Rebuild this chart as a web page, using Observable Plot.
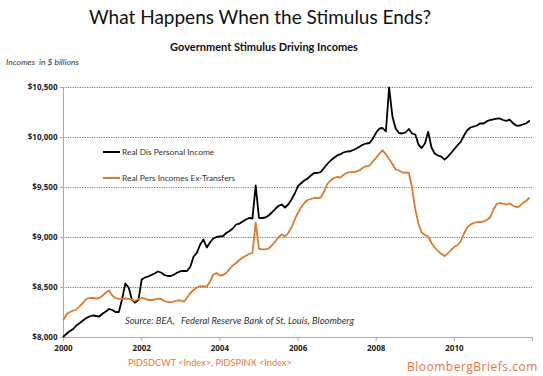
<!DOCTYPE html>
<html>
<head>
<meta charset="utf-8">
<script src="https://cdn.jsdelivr.net/npm/d3@7"></script>
<script src="https://cdn.jsdelivr.net/npm/@observablehq/plot@0.6"></script>
<style>
  html, body { margin: 0; padding: 0; background: #fff; }
  #wrap { position: relative; width: 543px; height: 376px; overflow: hidden; font-family: Lato, "Open Sans", sans-serif; }
  #wrap svg { position: absolute; left: 0; top: 0; }
  .t { position: absolute; white-space: nowrap; }
  .leg { position: absolute; display: flex; align-items: center; font-size: 8.4px; color: #333; }
  .leg span.sw { display: inline-block; width: 17px; height: 2px; margin-right: 2px; }
</style>
</head>
<body>
<div id="wrap">
  <div class="t" style="left:0;width:520px;top:5px;text-align:center;font-size:19px;color:#111;">What Happens When the Stimulus Ends?</div>
  <div class="t" style="left:0;width:528px;top:40px;text-align:center;font-size:11px;font-weight:bold;color:#111;">Government Stimulus Driving Incomes</div>
  <div class="t" style="left:6px;top:57px;font-size:8.5px;font-style:italic;color:#333;">Incomes&nbsp;&nbsp;in $ billions</div>
  <div class="leg" style="left:103px;top:147px;"><span class="sw" style="background:#000"></span>Real Dis Personal Income</div>
  <div class="leg" style="left:103px;top:173px;"><span class="sw" style="background:#dd7a2f"></span>Real Pers Incomes Ex-Transfers</div>
  <div class="t" style="left:125px;top:315px;font-size:9.4px;font-style:italic;color:#333;">Source: BEA,&nbsp;&nbsp; Federal Reserve Bank of St. Louis, Bloomberg</div>
  <div class="t" style="left:128px;top:357px;font-size:9.2px;color:#e07b39;">PIDSDCWT &lt;Index&gt;, PIDSPINX &lt;Index&gt;</div>
  <div class="t" style="left:407px;top:358px;font-size:12px;letter-spacing:0.5px;color:#e8764a;font-family:'Open Sans', sans-serif;">BloombergBriefs.com</div>
</div>
<script>
// Monthly observations, Jan 2000 – Dec 2011 ($ billions)
const startMonth = "2000-01";
const realDisposableIncome = [
  8010, 8040, 8065, 8085, 8120, 8145, 8170, 8195, 8210, 8220, 8215, 8210,
  8240, 8260, 8285, 8275, 8255, 8255, 8380, 8540, 8500, 8380, 8350, 8375,
  8580, 8600, 8610, 8625, 8640, 8660, 8650, 8625, 8615, 8615, 8630, 8650,
  8663, 8665, 8665, 8710, 8810, 8847, 8930, 8980, 8900, 8950, 8990, 9005,
  9010, 9015, 9045, 9065, 9090, 9130, 9138, 9160, 9180, 9195, 9190, 9520,
  9195, 9195, 9200, 9220, 9250, 9285, 9315, 9330, 9300, 9330, 9380, 9440,
  9515, 9545, 9570, 9590, 9620, 9645, 9645, 9655, 9695, 9735, 9770, 9795,
  9820, 9833, 9850, 9860, 9862, 9875, 9890, 9910, 9930, 9940, 9945, 9990,
  10050, 10090, 10095, 10060, 10500, 10210, 10090, 10045, 10040, 10050, 10085, 10040,
  10030, 9925, 9895, 9940, 10057, 9900, 9840, 9820, 9808, 9778, 9808, 9845,
  9885, 9925, 9957, 10020, 10072, 10100, 10110, 10120, 10142, 10140, 10163, 10175,
  10182, 10188, 10190, 10175, 10167, 10178, 10145, 10120, 10118, 10130, 10140, 10165
];
const realIncomeExTransfers = [
  8177, 8235, 8255, 8270, 8280, 8315, 8345, 8385, 8395, 8395, 8390, 8395,
  8420, 8450, 8470, 8420, 8395, 8387, 8387, 8390, 8387, 8378, 8365, 8385,
  8395, 8388, 8375, 8375, 8380, 8388, 8385, 8365, 8355, 8352, 8362, 8370,
  8370, 8358, 8400, 8445, 8475, 8500, 8513, 8510, 8510, 8560, 8630, 8645,
  8620, 8625, 8645, 8685, 8720, 8745, 8775, 8800, 8818, 8835, 8845, 9150,
  8885, 8882, 8882, 8890, 8920, 8960, 9000, 9030, 9010, 9045, 9100, 9180,
  9250, 9305, 9345, 9375, 9385, 9395, 9393, 9400, 9460, 9535, 9570, 9595,
  9605, 9600, 9625, 9645, 9653, 9653, 9660, 9673, 9700, 9713, 9720, 9760,
  9797, 9840, 9873, 9830, 9785, 9735, 9680, 9670, 9650, 9650, 9645, 9500,
  9280, 9130, 9050, 9025, 9010, 8945, 8900, 8865, 8835, 8815, 8840, 8875,
  8907, 8925, 8960, 9040, 9100, 9132, 9145, 9153, 9153, 9162, 9175, 9200,
  9280, 9335, 9345, 9338, 9330, 9340, 9320, 9305, 9310, 9345, 9365, 9395
];
const seriesNames = ["Real Dis Personal Income", "Real Pers Incomes Ex-Transfers"];
const seriesColors = ["#000000", "#dd7a2f"];
const yTicks = [8000, 8500, 9000, 9500, 10000, 10500];
const xTickYears = [2000, 2002, 2004, 2006, 2008, 2010];

const t0 = d3.utcParse("%Y-%m")(startMonth);
const months = realDisposableIncome.map((_, i) => d3.utcMonth.offset(t0, i));
const rows = [];
[realDisposableIncome, realIncomeExTransfers].forEach((vals, s) => {
  vals.forEach((v, i) => rows.push({date: months[i], value: v, series: seriesNames[s]}));
});
const xTicks = xTickYears.map(y => new Date(Date.UTC(y, 0, 1)));

const chart = Plot.plot({
  width: 543,
  height: 376,
  marginLeft: 63,
  marginRight: 11,
  marginTop: 87,
  marginBottom: 39,
  style: {fontFamily: "'Open Sans', Lato, sans-serif", fontSize: "8px", background: "transparent", overflow: "visible"},
  x: {type: "utc", domain: [new Date(Date.UTC(2000, 0, 1)), new Date(Date.UTC(2012, 0, 1))]},
  y: {domain: [8000, 10500]},
  color: {domain: seriesNames, range: seriesColors},
  marks: [
    Plot.gridY(yTicks.slice(1), {stroke: "#555", strokeOpacity: 1, strokeWidth: 0.8, strokeDasharray: "1.2,1.2"}),
    Plot.ruleY([8000], {stroke: "#aaa", strokeWidth: 1}),
    Plot.ruleX([new Date(Date.UTC(2000, 0, 1))], {stroke: "#aaa", strokeWidth: 1}),
    Plot.axisY({ticks: yTicks, tickFormat: d3.format("$,"), tickSize: 3, tickPadding: 3, stroke: "#aaa", fontWeight: "bold", fill: "#222", label: null}),
    Plot.axisX({ticks: xTicks.concat([new Date(Date.UTC(2012, 0, 1))]), tickFormat: d => d.getUTCFullYear() % 2 === 0 && d.getUTCFullYear() < 2012 ? d3.utcFormat("%Y")(d) : "", tickSize: 4, tickPadding: 4, stroke: "#aaa", fontWeight: "bold", fill: "#222", label: null}),
    Plot.line(rows, {x: "date", y: "value", stroke: "series", z: "series", strokeWidth: 1.8, curve: "linear"})
  ]
});
document.getElementById("wrap").prepend(chart);
</script>
</body>
</html>
